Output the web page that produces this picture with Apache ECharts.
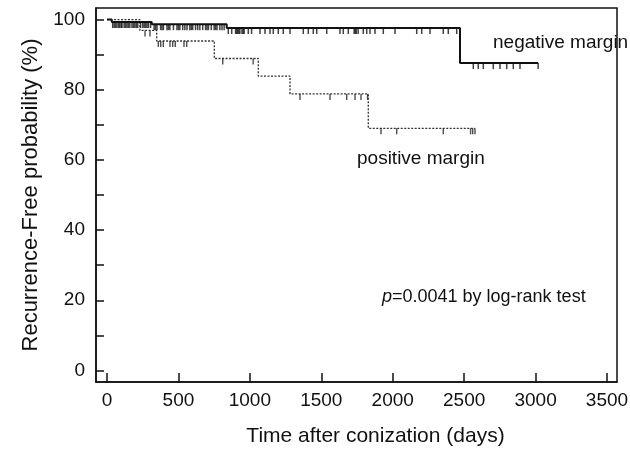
<!DOCTYPE html>
<html>
<head>
<meta charset="utf-8">
<script src="https://cdn.jsdelivr.net/npm/echarts@6/dist/echarts.min.js"></script>
<style>html,body{margin:0;padding:0;background:#fff}#c{width:630px;height:449px}</style>
</head>
<body>
<div id="c"></div>
<script>
// Kaplan-Meier step points (time in days, survival %)
var negTimes = [0, 33, 313, 838, 2471, 3018];
var negSurv  = [100, 99.3, 98.7, 97.6, 87.6, 87.6];
var posTimes = [0, 230, 348, 751, 1059, 1281, 1829, 2576];
var posSurv  = [100, 96.9, 93.9, 88.9, 83.9, 78.8, 69.0, 69.0];

// censored observation times
var negCensor = [40, 50, 60, 70, 82, 90, 100, 105, 120, 130, 140, 150, 160, 175, 185, 195, 205, 215, 235, 250, 260, 270, 280, 290, 305,
  330, 340, 350, 375, 385, 395, 420, 430, 440, 465, 490, 500, 510, 530, 545, 560, 580, 590, 600, 620, 635, 650, 670, 690, 700, 710, 730, 750, 760, 770, 790, 805, 820,
  849, 873, 900, 908, 915, 923, 930, 945, 953, 960, 989, 1012, 1071, 1106, 1141, 1164, 1199, 1234, 1281, 1374, 1409, 1444, 1468, 1538,
  1631, 1654, 1689, 1730, 1738, 1745, 1758, 1794, 1818, 1841, 1876, 1934, 2016, 2168, 2203, 2261, 2354, 2389, 2448,
  2564, 2599, 2634, 2704, 2751, 2798, 2844, 2891, 3018];
var posCensor = [266, 301, 359, 376, 394, 441, 460, 478, 539, 558, 810, 1023,
  1351, 1561, 1678, 1736, 1778, 1824, 1918, 2028, 2354, 2545, 2560, 2576];

var xTicks = [0, 500, 1000, 1500, 2000, 2500, 3000, 3500];
var yLabels = [0, 20, 40, 60, 80, 100];
var yTicks = [0, 10, 20, 30, 40, 50, 60, 70, 80, 90, 100];

function levelAt(times, surv, t) {
  var v = surv[0];
  for (var i = 0; i < times.length; i++) { if (times[i] <= t) v = surv[i]; }
  return v;
}
function pairs(a, b) { return a.map(function (t, i) { return [t, b[i]]; }); }
function censorPts(c, times, surv) { return c.map(function (t) { return [t, levelAt(times, surv, t)]; }); }

var FONT = 'Liberation Sans, Arial, sans-serif';
var chart = echarts.init(document.getElementById('c'), null, {renderer: 'canvas'});
chart.setOption({
  animation: false,
  backgroundColor: '#fff',
  grid: {left: 96, right: 13, top: 8, bottom: 67, outerBoundsMode: 'none', containLabel: false,
         show: true, borderColor: '#111', borderWidth: 1.5, backgroundColor: 'transparent'},
  xAxis: {
    type: 'value', min: -77, max: 3570,
    name: 'Time after conization (days)', nameLocation: 'middle', nameGap: 44,
    nameTextStyle: {fontFamily: FONT, fontSize: 21, color: '#111', padding: [0, 0, 0, 38]},
    axisLine: {show: true, onZero: false, lineStyle: {color: '#111', width: 1.5}},
    axisTick: {show: true, inside: true, length: 9, customValues: xTicks, lineStyle: {color: '#111', width: 1.5}},
    axisLabel: {customValues: xTicks, formatter: function (v) { return String(v); }, fontFamily: FONT, fontSize: 19, color: '#111', margin: 9},
    splitLine: {show: false}
  },
  yAxis: {
    type: 'value', min: -3.3, max: 103.3,
    name: 'Recurrence-Free probability (%)', nameLocation: 'middle', nameGap: 50,
    nameTextStyle: {fontFamily: FONT, fontSize: 22, color: '#111'},
    axisLine: {show: true, onZero: false, lineStyle: {color: '#111', width: 1.5}},
    axisTick: {show: true, inside: true, length: 8, customValues: yTicks, lineStyle: {color: '#111', width: 1.5}},
    axisLabel: {customValues: yLabels, formatter: function (v) { return String(v); }, fontFamily: FONT, fontSize: 19, color: '#111', margin: 11},
    splitLine: {show: false}
  },
  series: [
    {type: 'line', name: 'negative margin', step: 'end', data: pairs(negTimes, negSurv), showSymbol: false,
     lineStyle: {color: '#111', width: 2}, z: 3},
    {type: 'line', name: 'positive margin', step: 'end', data: pairs(posTimes, posSurv), showSymbol: false,
     lineStyle: {color: '#333', width: 1.3, type: [2, 1.5]}, z: 2},
    {type: 'scatter', data: censorPts(negCensor, negTimes, negSurv), symbol: 'rect', symbolSize: [1.5, 6], symbolOffset: [0, 3],
     itemStyle: {color: '#111'}, z: 4},
    {type: 'scatter', data: censorPts(posCensor, posTimes, posSurv), symbol: 'rect', symbolSize: [1.4, 6], symbolOffset: [0, 3],
     itemStyle: {color: '#222'}, z: 4}
  ],
  graphic: [
    {type: 'text', left: 493, top: 33, style: {text: 'negative margin', font: '19px ' + FONT, fill: '#111'}},
    {type: 'text', left: 357, top: 149, style: {text: 'positive margin', font: '19px ' + FONT, fill: '#111'}},
    {type: 'text', left: 382, top: 288, style: {
      text: '{i|p}=0.0041 by log-rank test', font: '18px ' + FONT, fill: '#111',
      rich: {i: {fontStyle: 'italic', fontFamily: FONT, fontSize: 18, fill: '#111'}}
    }}
  ]
});
</script>
</body>
</html>
